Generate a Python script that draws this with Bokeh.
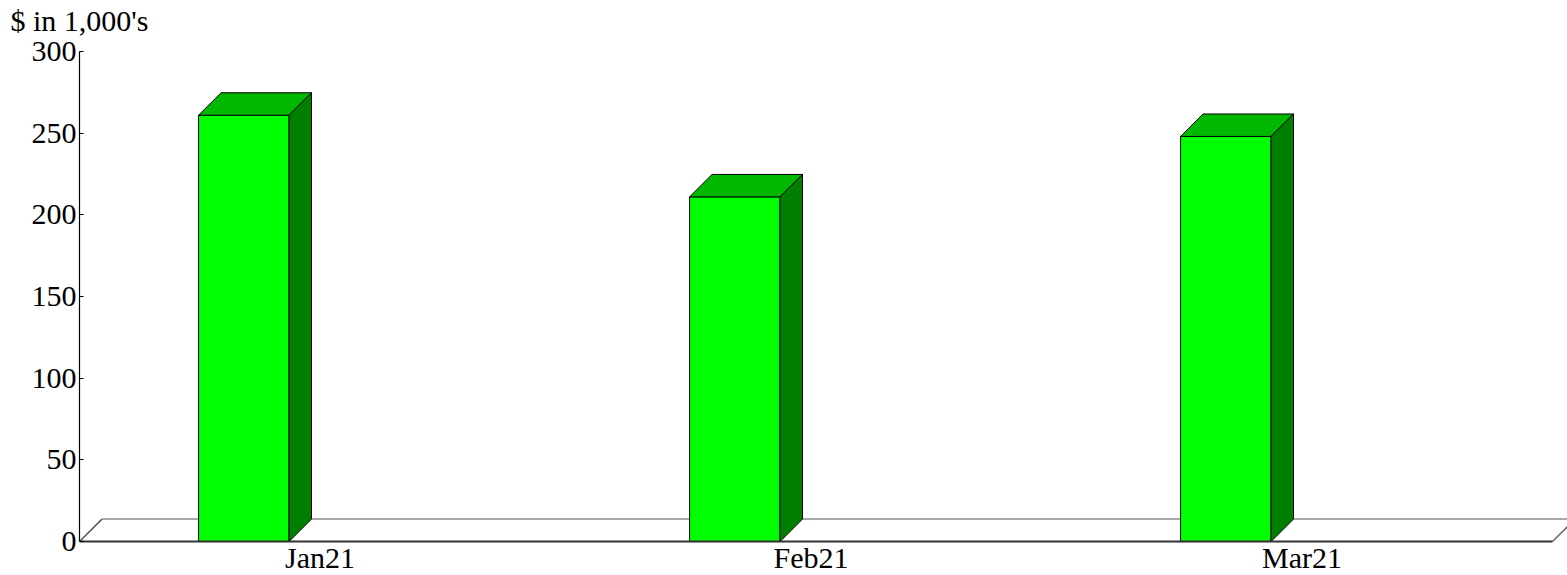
from bokeh.plotting import figure
from bokeh.models import Range1d, FixedTicker, LinearAxis
from bokeh.core.properties import value
from bokeh.embed import file_html
from bokeh.resources import INLINE

# ---- data ----
months = ["Jan21", "Feb21", "Mar21"]
amounts = [261, 211, 248]
y_ticks = [0, 50, 100, 150, 200, 250, 300]
y_title = "$ in 1,000's"

# ---- layout constants ----
W, H = 1567, 575
LEFT_B, TOP_B = 79, 50
SLOT_PX = 491.0
AXIS_PX = 491.0          # pixels from 0 to 300
Y_END = 300
FONT = "Liberation Serif"
FSIZE = "30px"

frame_w = W - LEFT_B
frame_h = H - TOP_B
x_end = frame_w / SLOT_PX
px_per_y = AXIS_PX / Y_END
y_start = Y_END - frame_h / px_per_y
DEPTH_PX = 22.5
dx = DEPTH_PX / SLOT_PX
dy = DEPTH_PX / px_per_y
BAR_L, BAR_R = 0.2425, 0.4267
LABEL_POS = 0.49
n = len(months)

p = figure(width=W, height=H, output_backend="svg", toolbar_location=None,
           x_range=Range1d(0, x_end), y_range=Range1d(y_start, Y_END),
           x_axis_location=None,
           min_border_left=LEFT_B, min_border_right=0,
           min_border_top=TOP_B, min_border_bottom=0)
p.title.visible = False
p.outline_line_color = None
p.grid.visible = False
p.background_fill_color = "white"
p.border_fill_color = "white"

# ---- floor ----
p.patch([0, n, n + dx, dx], [0, 0, dy, dy], fill_color="white", line_color=None)
p.line([dx, n + dx], [dy, dy], line_color="#A8A8A8", line_width=2)
p.line([0, dx], [0, dy], line_color="#555555", line_width=1.5)
p.line([n, n + dx], [0, dy], line_color="#666666", line_width=1.5)

# ---- 3D bars ----
lefts = [i + BAR_L for i in range(n)]
rights = [i + BAR_R for i in range(n)]
p.quad(left=lefts, right=rights, bottom=[0] * n, top=amounts,
       fill_color="#00FF00", line_color="black", line_width=1)
top_xs = [[l, l + dx, r + dx, r] for l, r in zip(lefts, rights)]
top_ys = [[v, v + dy, v + dy, v] for v in amounts]
p.patches(top_xs, top_ys, fill_color="#00B800", line_color="black", line_width=1)
side_xs = [[r, r + dx, r + dx, r] for r in rights]
side_ys = [[0, dy, v + dy, v] for v in amounts]
p.patches(side_xs, side_ys, fill_color="#007F00", line_color="black", line_width=1)

# front floor line
p.line([0, n], [0, 0], line_color="#333333", line_width=2)

# ---- category labels ----
tick_pos = [i + LABEL_POS for i in range(n)]
p.text(x=tick_pos, y=[0] * n, text=months, y_offset=16,
       text_align="center", text_baseline="alphabetic",
       text_font=value(FONT), text_font_size=FSIZE, text_color="black")

# ---- y axis ----
ya = p.yaxis[0]
ya.ticker = FixedTicker(ticks=y_ticks)
ya.bounds = (0, Y_END)
ya.axis_line_color = "black"
ya.axis_line_width = 1.2
ya.major_tick_in = 4
ya.major_tick_out = 0
ya.major_tick_line_color = "black"
ya.minor_tick_line_color = None
ya.major_label_standoff = 3
ya.major_label_text_font = FONT
ya.major_label_text_font_size = FSIZE
ya.major_label_text_color = "black"

# ---- unit caption (as label of an axis above the frame) ----
ta = LinearAxis(ticker=FixedTicker(ticks=[0]), major_label_overrides={0: y_title})
ta.axis_line_color = None
ta.major_tick_line_color = None
ta.minor_tick_line_color = None
ta.major_tick_in = 0
ta.major_tick_out = 0
ta.major_label_standoff = 15
ta.major_label_text_font = FONT
ta.major_label_text_font_size = FSIZE
ta.major_label_text_color = "black"
p.add_layout(ta, "above")

open("out.html", "w").write(file_html(p, INLINE))
